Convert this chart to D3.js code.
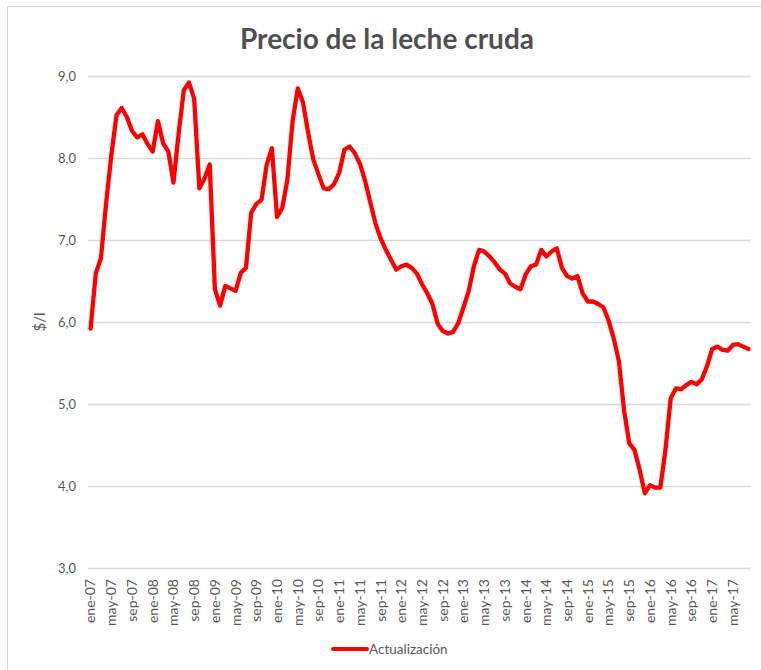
<!DOCTYPE html>
<html>
<head>
<meta charset="utf-8">
<script src="https://cdn.jsdelivr.net/npm/d3@7"></script>
<style>
    body { margin: 0; background: #fff; }
    text { font-family: Lato, "Open Sans", sans-serif; fill: #595959; }
</style>
</head>
<body>
<svg width="761" height="670"></svg>
<script>
// monthly milk price, ene-07 .. ago-17
const monthNames = ['ene', 'feb', 'mar', 'abr', 'may', 'jun', 'jul', 'ago', 'sep', 'oct', 'nov', 'dic']
const years = ['07', '08', '09', '10', '11', '12', '13', '14', '15', '16', '17']

const prices = [
    5.92, 6.59, 6.78, 7.45, 8.03, 8.52, 8.61, 8.50, 8.33, 8.25, 8.29, 8.17,
    8.08, 8.45, 8.18, 8.08, 7.70, 8.30, 8.83, 8.92, 8.72, 7.63, 7.75, 7.92,
    6.40, 6.20, 6.44, 6.41, 6.38, 6.60, 6.66, 7.33, 7.44, 7.49, 7.92, 8.12,
    7.28, 7.39, 7.74, 8.45, 8.85, 8.68, 8.31, 7.98, 7.80, 7.63, 7.62, 7.68,
    7.82, 8.10, 8.14, 8.06, 7.93, 7.72, 7.46, 7.20, 7.02, 6.88, 6.76, 6.64,
    6.68, 6.70, 6.66, 6.59, 6.46, 6.35, 6.22, 5.98, 5.89, 5.86, 5.88, 5.99,
    6.18, 6.38, 6.68, 6.88, 6.86, 6.80, 6.73, 6.64, 6.59, 6.47, 6.43, 6.40,
    6.58, 6.68, 6.70, 6.88, 6.80, 6.86, 6.90, 6.66, 6.56, 6.53, 6.56, 6.35,
    6.25, 6.25, 6.22, 6.18, 6.02, 5.80, 5.52, 4.92, 4.52, 4.44, 4.20, 3.91,
    4.01, 3.98, 3.98, 4.45, 5.07, 5.19, 5.18, 5.23, 5.27, 5.24, 5.30, 5.46,
    5.67, 5.70, 5.66, 5.65, 5.72, 5.73, 5.70, 5.67
]

const yTicks = [3, 4, 5, 6, 7, 8, 9]

let categories = []
years.forEach(y => monthNames.forEach(m => categories.push(m + '-' + y)))
categories = categories.slice(0, prices.length)

const data = prices.map((v, i) => ({ month: categories[i], value: v }))

var svg = d3.select('svg')

// chart frame
svg.append('rect')
    .attr('x', 7.5).attr('y', 6.5)
    .attr('width', 760).attr('height', 700)
    .attr('fill', 'none')
    .attr('stroke', '#d9d9d9')

var x = d3.scaleBand()
    .domain(categories)
    .range([88, 751])

var y = d3.scaleLinear()
    .domain([3, 9])
    .range([568, 76])

// gridlines
svg.append('g')
    .selectAll('line')
    .data(yTicks)
    .enter().append('line')
    .attr('x1', 88)
    .attr('x2', 751)
    .attr('y1', d => y(d) + 0.5)
    .attr('y2', d => y(d) + 0.5)
    .attr('stroke', '#d9d9d9')
    .attr('stroke-width', 1.3)

// y labels
svg.append('g')
    .selectAll('text')
    .data(yTicks)
    .enter().append('text')
    .attr('x', 76)
    .attr('y', d => y(d))
    .attr('dy', '0.35em')
    .attr('text-anchor', 'end')
    .style('font-size', '13px')
    .text(d => d3.format('.1f')(d).replace('.', ','))

// x labels, every 4 months
svg.append('g')
    .selectAll('text')
    .data(categories.filter((c, i) => i % 4 === 0))
    .enter().append('text')
    .attr('transform', d => 'translate(' + (x(d) + x.bandwidth() / 2) + ',579) rotate(-90)')
    .attr('dy', '0.35em')
    .attr('text-anchor', 'end')
    .style('font-size', '14px')
    .text(d => d)

// line
var line = d3.line()
    .x(d => x(d.month) + x.bandwidth() / 2)
    .y(d => y(d.value))

svg.append('path')
    .datum(data)
    .attr('d', line)
    .attr('fill', 'none')
    .attr('stroke', '#ff0000')
    .attr('stroke-width', 4.3)
    .attr('stroke-linejoin', 'round')
    .attr('stroke-linecap', 'round')

// title
svg.append('text')
    .attr('x', 387)
    .attr('y', 49)
    .attr('text-anchor', 'middle')
    .style('font-size', '28px')
    .style('font-weight', 'bold')
    .style('fill', '#505050')
    .text('Precio de la leche cruda')

// y axis title
svg.append('text')
    .attr('transform', 'translate(40,322) rotate(-90)')
    .attr('text-anchor', 'middle')
    .attr('dy', '0.35em')
    .style('font-size', '15px')
    .text('$/l')

// legend
svg.append('line')
    .attr('x1', 333).attr('x2', 367)
    .attr('y1', 649).attr('y2', 649)
    .attr('stroke', '#ff0000')
    .attr('stroke-width', 4)
    .attr('stroke-linecap', 'round')

svg.append('text')
    .attr('x', 369)
    .attr('y', 649)
    .attr('dy', '0.35em')
    .style('font-size', '13.5px')
    .text('Actualización')
</script>
</body>
</html>
